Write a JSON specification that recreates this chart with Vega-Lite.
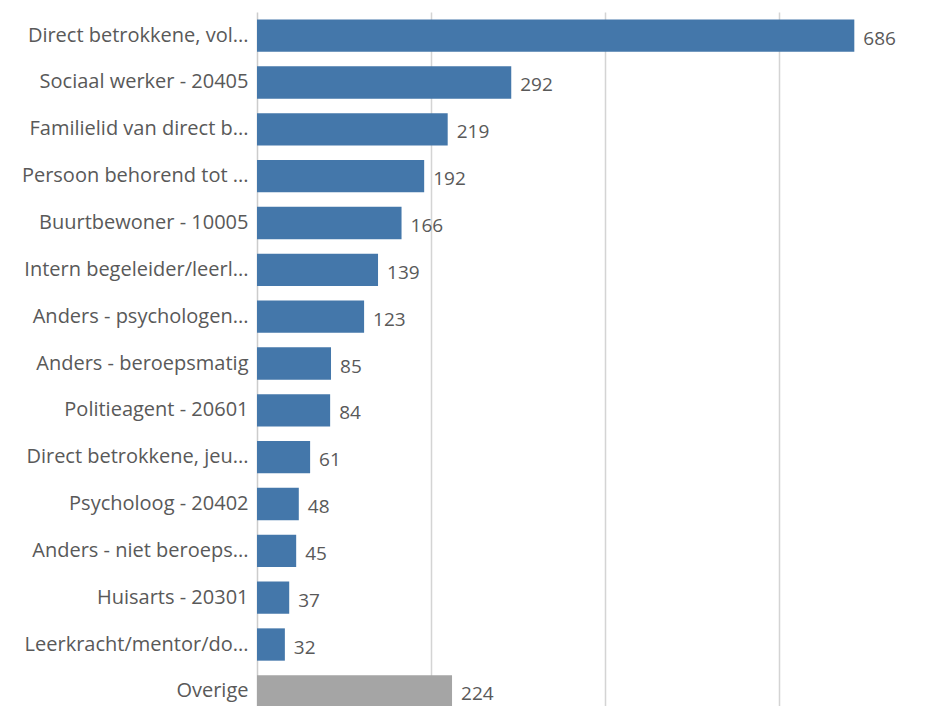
{
  "$schema": "https://vega.github.io/schema/vega-lite/v6.json",
  "autosize": {"type": "none"},
  "padding": {"left": 257, "top": 12, "right": 0, "bottom": 0},
  "width": 687,
  "height": 703,
  "background": "white",
  "data": {"values": [
    {"categorie": "Direct betrokkene, vol...", "aantal": 686, "groep": "hoofd"},
    {"categorie": "Sociaal werker - 20405", "aantal": 292, "groep": "hoofd"},
    {"categorie": "Familielid van direct b...", "aantal": 219, "groep": "hoofd"},
    {"categorie": "Persoon behorend tot ...", "aantal": 192, "groep": "hoofd"},
    {"categorie": "Buurtbewoner - 10005", "aantal": 166, "groep": "hoofd"},
    {"categorie": "Intern begeleider/leerl...", "aantal": 139, "groep": "hoofd"},
    {"categorie": "Anders -  psychologen...", "aantal": 123, "groep": "hoofd"},
    {"categorie": "Anders - beroepsmatig", "aantal": 85, "groep": "hoofd"},
    {"categorie": "Politieagent - 20601", "aantal": 84, "groep": "hoofd"},
    {"categorie": "Direct betrokkene, jeu...", "aantal": 61, "groep": "hoofd"},
    {"categorie": "Psycholoog - 20402", "aantal": 48, "groep": "hoofd"},
    {"categorie": "Anders - niet beroeps...", "aantal": 45, "groep": "hoofd"},
    {"categorie": "Huisarts - 20301", "aantal": 37, "groep": "hoofd"},
    {"categorie": "Leerkracht/mentor/do...", "aantal": 32, "groep": "hoofd"},
    {"categorie": "Overige", "aantal": 224, "groep": "overige"}
  ]},
  "encoding": {
    "y": {
      "field": "categorie", "type": "nominal", "sort": null, "title": null,
      "scale": {"paddingInner": 0.31, "paddingOuter": 0.16},
      "axis": {
        "domain": true, "domainColor": "#cccccc", "domainWidth": 1.5,
        "ticks": false, "labelPadding": 9, "labelLimit": 0,
        "labelFont": "Open Sans", "labelFontSize": 20, "labelColor": "#595959"
      }
    },
    "x": {
      "field": "aantal", "type": "quantitative", "title": null,
      "scale": {"domain": [0, 789], "nice": false},
      "axis": {
        "values": [200, 400, 600], "grid": true, "gridColor": "#d4d4d4", "gridWidth": 1.5,
        "labels": false, "ticks": false, "domain": false
      }
    }
  },
  "layer": [
    {
      "mark": {"type": "bar"},
      "encoding": {
        "color": {
          "field": "groep", "type": "nominal", "legend": null,
          "scale": {"domain": ["hoofd", "overige"], "range": ["#4477aa", "#a5a5a5"]}
        }
      }
    },
    {
      "mark": {"type": "text", "align": "left", "baseline": "middle", "dx": 9, "dy": 3,
               "font": "Open Sans", "fontSize": 19, "color": "#595959"},
      "encoding": {"text": {"field": "aantal", "type": "quantitative"}}
    }
  ],
  "config": {"view": {"stroke": null}}
}
